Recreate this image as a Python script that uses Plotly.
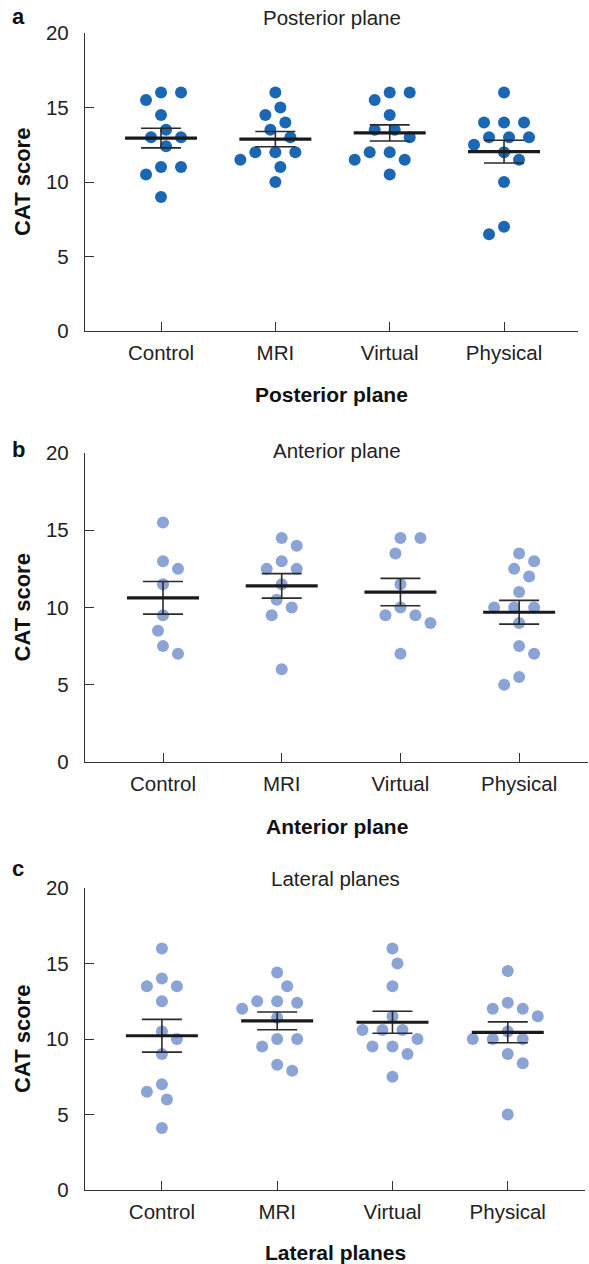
import numpy as np
import plotly.graph_objects as go

# ---------------- data ----------------
categories = ["Control", "MRI", "Virtual", "Physical"]

posterior_control = [16, 16, 15.5, 14.5, 13.5, 13, 13, 12.4, 11, 11, 10.5, 9]
posterior_mri = [16, 15, 14.5, 14, 13.5, 13, 12, 12, 12, 11.5, 11, 10]
posterior_virtual = [16, 16, 15.5, 14.5, 13.5, 13.5, 13, 12, 12, 11.5, 11.5, 10.5]
posterior_physical = [16, 14, 14, 14, 13, 13, 13, 12.5, 12, 11.5, 10, 7, 6.5]

anterior_control = [15.5, 13, 12.5, 11.5, 9.5, 8.5, 7.5, 7]
anterior_mri = [14.5, 14, 13, 12.5, 12.5, 11.5, 10.5, 10, 9.5, 6]
anterior_virtual = [14.5, 14.5, 13.5, 11.5, 10, 9.5, 9.5, 9, 7]
anterior_physical = [13.5, 13, 12.5, 12, 11, 10, 10, 10, 9, 7.5, 7, 5.5, 5]

lateral_control = [16, 14, 13.5, 13.5, 12.5, 10.5, 10, 9, 7, 6.5, 6, 4.1]
lateral_mri = [14.4, 13.5, 12.5, 12.5, 12.4, 12, 11.4, 10, 10, 9.5, 8.3, 7.9]
lateral_virtual = [16, 15, 13.5, 11.5, 10.6, 10.6, 10.6, 10, 9.5, 9.5, 9, 7.5]
lateral_physical = [14.5, 12.4, 12, 12, 11.5, 10.5, 10, 10, 10, 9, 8.4, 5]

panel_letters = ["a", "b", "c"]
panel_titles = ["Posterior plane", "Anterior plane", "Lateral planes"]
y_title = "CAT score"
y_ticks = [0, 5, 10, 15, 20]

groups = [
    [posterior_control, posterior_mri, posterior_virtual, posterior_physical],
    [anterior_control, anterior_mri, anterior_virtual, anterior_physical],
    [lateral_control, lateral_mri, lateral_virtual, lateral_physical],
]

# ---------------- layout / style ----------------
W, H = 589, 1264
FONT = "Liberation Sans, Arial, Helvetica, sans-serif"
dot_colors = ["#1b67b4", "#8ca3d6", "#8ca3d6"]
axis_color = "#333333"

# pixel geometry of each panel: (left, right, top, bottom, x range)
panels = [
    dict(left=85, right=578, top=33, bottom=331, xr=(-0.665, 3.647)),
    dict(left=85, right=588, top=453, bottom=762, xr=(-0.657, 3.58)),
    dict(left=85, right=585, top=888, bottom=1190, xr=(-0.667, 3.67)),
]
title_y = [18, 450, 878]
letter_y = [17, 449, 868]
xtitle_y = [394, 826, 1252]

DOT = 12  # marker diameter in px


def swarm_offsets(vals, px_per_x, px_per_y, d=15.5, step=5.0):
    """Greedy beeswarm: horizontal offsets (in data units) avoiding overlaps."""
    vals = np.asarray(vals, float)
    order = np.argsort(-vals, kind="stable")
    placed = []
    offs = np.zeros(len(vals))
    flip = 1
    for i in order:
        y = vals[i] * px_per_y
        cands = [0.0]
        for k in range(1, 40):
            cands += [flip * k * step, -flip * k * step]
        for c in cands:
            if all((c - ox) ** 2 + (y - oy) ** 2 >= d * d for ox, oy in placed):
                break
        if c != 0:
            flip = -flip
        placed.append((c, y))
        offs[i] = c / px_per_x
    return offs


fig = go.Figure()
layout_axes = {}
annotations = []

for p, (grp, geo) in enumerate(zip(groups, panels)):
    xa = "x" if p == 0 else f"x{p + 1}"
    ya = "y" if p == 0 else f"y{p + 1}"
    xr = geo["xr"]
    px_per_x = (geo["right"] - geo["left"]) / (xr[1] - xr[0])
    px_per_y = (geo["bottom"] - geo["top"]) / 20.0

    # dots
    for ci, vals in enumerate(grp):
        offs = swarm_offsets(vals, px_per_x, px_per_y)
        fig.add_trace(go.Scatter(
            x=ci + offs, y=vals, mode="markers", xaxis=xa, yaxis=ya,
            marker=dict(size=DOT, color=dot_colors[p], line=dict(width=0)),
            showlegend=False, hoverinfo="y"))

    # mean +/- SEM
    mean_half = 36 / px_per_x
    cap_half = 20 / px_per_x
    ex, ey, mx, my = [], [], [], []
    for ci, vals in enumerate(grp):
        v = np.asarray(vals, float)
        m = v.mean()
        s = v.std(ddof=1) / np.sqrt(len(v))
        ex += [ci, ci, None, ci - cap_half, ci + cap_half, None,
               ci - cap_half, ci + cap_half, None]
        ey += [m - s, m + s, None, m + s, m + s, None, m - s, m - s, None]
        mx += [ci - mean_half, ci + mean_half, None]
        my += [m, m, None]
    fig.add_trace(go.Scatter(x=ex, y=ey, mode="lines", xaxis=xa, yaxis=ya,
                             line=dict(color="#2a2a2a", width=1.6),
                             showlegend=False, hoverinfo="skip"))
    fig.add_trace(go.Scatter(x=mx, y=my, mode="lines", xaxis=xa, yaxis=ya,
                             line=dict(color="#1a1a1a", width=3.2),
                             showlegend=False, hoverinfo="skip"))

    xdom = [geo["left"] / W, geo["right"] / W]
    ydom = [1 - geo["bottom"] / H, 1 - geo["top"] / H]
    key = "" if p == 0 else str(p + 1)
    layout_axes["xaxis" + key] = dict(
        domain=xdom, range=list(xr), anchor=ya, tickmode="array",
        tickvals=list(range(len(categories))), ticktext=categories,
        ticks="inside", ticklen=9, tickwidth=1.4, tickcolor=axis_color,
        showline=True, linecolor=axis_color, linewidth=1.4, automargin=False,
        showgrid=False, zeroline=False, ticklabelstandoff=3,
        tickfont=dict(family=FONT, size=20.5, color="#222222"), fixedrange=True)
    layout_axes["yaxis" + key] = dict(
        domain=ydom, range=[0, 20], anchor=xa, tickmode="array",
        tickvals=y_ticks, ticktext=[str(t) for t in y_ticks],
        ticks="inside", ticklen=9, tickwidth=1.4, tickcolor=axis_color,
        showline=True, linecolor=axis_color, linewidth=1.4, automargin=False,
        showgrid=False, zeroline=False, ticklabelstandoff=11,
        tickfont=dict(family=FONT, size=20.5, color="#222222"), fixedrange=True)

    # texts
    annotations.append(dict(text=panel_letters[p], x=18 / W, y=1 - letter_y[p] / H,
                            xref="paper", yref="paper", showarrow=False,
                            font=dict(family=FONT, size=22, color="#111111", weight="bold"),
                            xanchor="center", yanchor="middle"))
    annotations.append(dict(text=panel_titles[p], x=(geo["left"] + geo["right"]) / 2 / W,
                            y=1 - title_y[p] / H, xref="paper", yref="paper",
                            showarrow=False, font=dict(family=FONT, size=20.5, color="#222222"),
                            xanchor="center", yanchor="middle"))
    annotations.append(dict(text=panel_titles[p], x=(geo["left"] + geo["right"]) / 2 / W,
                            y=1 - xtitle_y[p] / H, xref="paper", yref="paper",
                            showarrow=False,
                            font=dict(family=FONT, size=21, color="#111111", weight="bold"),
                            xanchor="center", yanchor="middle"))
    annotations.append(dict(text=y_title, x=22 / W,
                            y=1 - (geo["top"] + geo["bottom"]) / 2 / H,
                            xref="paper", yref="paper", showarrow=False, textangle=-90,
                            font=dict(family=FONT, size=22, color="#111111", weight="bold"),
                            xanchor="center", yanchor="middle"))

fig.update_layout(
    width=W, height=H, autosize=False,
    margin=dict(l=0, r=0, t=0, b=0, pad=0, autoexpand=False),
    paper_bgcolor="white", plot_bgcolor="white",
    annotations=annotations, showlegend=False,
    **layout_axes)

fig.write_html(
    "out.html",
    config={"displayModeBar": False, "responsive": False},
    post_script="document.body.style.margin='0px';document.body.style.overflow='hidden';",
)
